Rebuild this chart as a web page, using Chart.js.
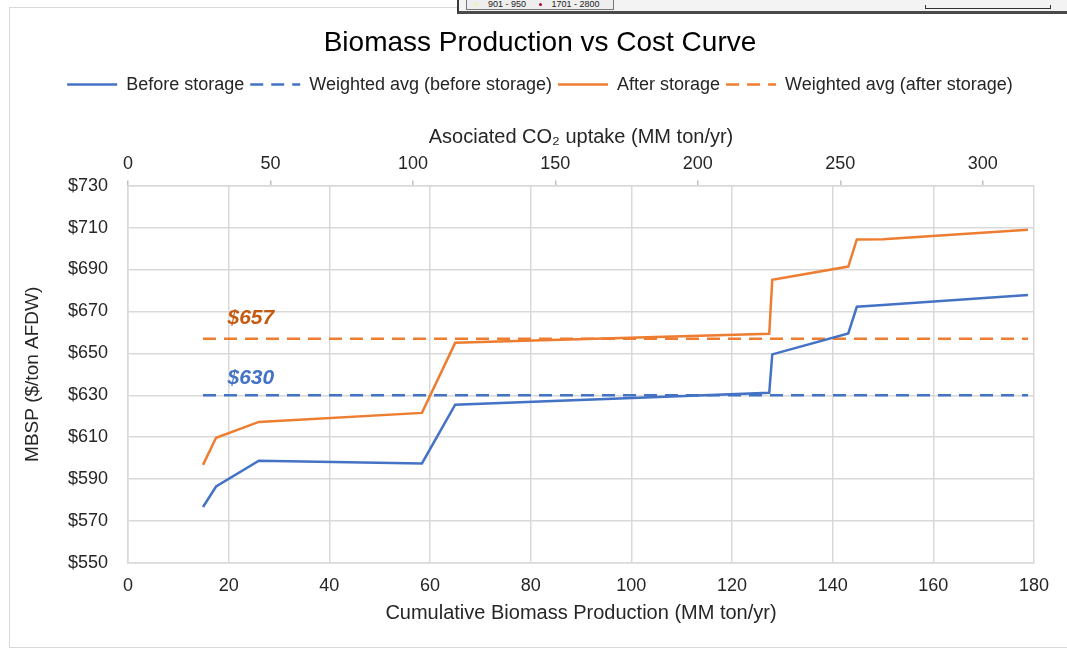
<!DOCTYPE html>
<html>
<head>
<meta charset="utf-8">
<script src="https://cdn.jsdelivr.net/npm/chart.js@4.4.1/dist/chart.umd.min.js"></script>
<style>
  html, body { margin: 0; padding: 0; background: #fff; }
  body { width: 1067px; height: 651px; position: relative; overflow: hidden; font-family: "Liberation Sans", Arial, sans-serif; }
  #frame { position: absolute; left: 9px; top: 7px; width: 1080px; height: 641px; border: 1.5px solid #d9d9d9; box-sizing: border-box; }
  #strip { position: absolute; left: 457px; top: -2px; width: 620px; height: 16px; background: #f3f3f3; border-left: 2px solid #3a3a3a; border-bottom: 3px solid #4a4a4a; box-sizing: border-box; }
  #legbox { position: absolute; left: 7px; top: 0; width: 148px; height: 12px; border: 1px solid #777; background: #eeeeee; font-size: 9px; line-height: 11px; color: #222; box-sizing: border-box; padding-left: 8px; white-space: nowrap; }
  #legbox .dot { display: inline-block; width: 3px; height: 3px; border-radius: 2px; margin: 0 10px 1px 0; }
  #scalebar { position: absolute; left: 466px; top: 7px; width: 124px; height: 3px; border-bottom: 1px solid #333; border-left: 1px solid #333; border-right: 1px solid #333; }
  #wrap { position: absolute; left: 0; top: 0; width: 1067px; height: 651px; }
</style>
</head>
<body>
<div id="frame"></div>
<div id="strip">
  <div id="legbox"><span class="dot" style="background:#f4f49a"></span>901 - 950 &nbsp;&nbsp;&nbsp;&nbsp;<span class="dot" style="background:#9b0f3a"></span>1701 - 2800</div>
  <div id="scalebar"></div>
</div>
<div id="wrap"><canvas id="costChart" width="1067" height="651"></canvas></div>
<script>
// Cumulative biomass production (MM ton/yr) at each break point
const biomass = [14.9, 17.5, 26.0, 58.4, 65.0, 127.4, 128.0, 143.1, 144.8, 150.0, 178.8];
// MBSP ($/ton AFDW)
const beforeStorage = [576.7, 586.5, 598.8, 597.5, 625.5, 631.2, 649.5, 659.5, 672.2, 673.1, 677.8];
const afterStorage = [596.8, 609.7, 617.3, 621.6, 655.0, 659.3, 685.1, 691.4, 704.3, 704.4, 708.9];

const weightedBefore = 630;
const weightedAfter = 657;

const yTicks = [550, 570, 590, 610, 630, 650, 670, 690, 710, 730];

const blue = '#4472C4';
const orange = '#ED7D31';
const fontFamily = '"Liberation Sans", Arial, sans-serif';

Chart.defaults.font.family = fontFamily;
Chart.defaults.color = '#262626';

const toPoints = (xs, ys) => xs.map((x, i) => ({ x: x, y: ys[i] }));
const flatLine = (v) => [{ x: biomass[0], y: v }, { x: biomass[biomass.length - 1], y: v }];

// Writes the "$630" / "$657" labels above the dashed average lines
const avgLabels = {
    id: 'avgLabels',
    afterDatasetsDraw(chart) {
        const { ctx, scales: { x, y } } = chart;
        ctx.save();
        ctx.font = 'italic bold 21px ' + fontFamily;
        ctx.textAlign = 'center';
        ctx.textBaseline = 'middle';
        ctx.fillStyle = '#C55A11';
        ctx.fillText('$' + weightedAfter, x.getPixelForValue(24.4), y.getPixelForValue(weightedAfter) - 20);
        ctx.fillStyle = blue;
        ctx.fillText('$' + weightedBefore, x.getPixelForValue(24.4), y.getPixelForValue(weightedBefore) - 17);
        ctx.restore();
    }
};

const ctx = document.getElementById('costChart').getContext('2d');
new Chart(ctx, {
    type: 'line',
    data: {
        datasets: [
            { label: 'Before storage', data: toPoints(biomass, beforeStorage), borderColor: blue, backgroundColor: blue, borderWidth: 2.5, pointRadius: 0 },
            { label: 'Weighted avg (before storage)', data: flatLine(weightedBefore), borderColor: blue, backgroundColor: blue, borderWidth: 2.5, borderDash: [13, 8], pointRadius: 0 },
            { label: 'After storage', data: toPoints(biomass, afterStorage), borderColor: orange, backgroundColor: orange, borderWidth: 2.5, pointRadius: 0 },
            { label: 'Weighted avg (after storage)', data: flatLine(weightedAfter), borderColor: orange, backgroundColor: orange, borderWidth: 2.5, borderDash: [13, 8], pointRadius: 0 }
        ]
    },
    options: {
        responsive: false,
        animation: false,
        layout: { padding: { left: 46, right: 33, top: 14, bottom: 22 } },
        plugins: {
            title: {
                display: true,
                text: 'Biomass Production vs Cost Curve',
                color: '#000',
                font: { size: 28, weight: 'normal' },
                padding: { top: 12, bottom: 10 }
            },
            legend: {
                labels: {
                    usePointStyle: true,
                    pointStyle: 'line',
                    pointStyleWidth: 50,
                    padding: 6,
                    color: '#262626',
                    font: { size: 18 },
                    // legend lines should keep the dataset's dash and width
                    generateLabels: (chart) => {
                        const items = Chart.defaults.plugins.legend.labels.generateLabels(chart);
                        items.forEach(item => {
                            const ds = chart.data.datasets[item.datasetIndex];
                            item.lineDash = ds.borderDash || [];
                            item.lineWidth = ds.borderWidth;
                            item.strokeStyle = ds.borderColor;
                        });
                        return items;
                    }
                }
            },
            tooltip: { enabled: false }
        },
        scales: {
            x: {
                type: 'linear',
                position: 'bottom',
                min: 0,
                max: 180,
                ticks: { stepSize: 20, padding: 12, font: { size: 18 } },
                grid: { color: '#d9d9d9', lineWidth: 1.5, drawTicks: false },
                border: { color: '#d9d9d9', width: 1.5 },
                title: { display: true, text: 'Cumulative Biomass Production (MM ton/yr)', font: { size: 20 }, padding: { top: 4 } },
                afterFit: (scale) => { scale.height = 66; }
            },
            x2: {
                type: 'linear',
                position: 'top',
                min: 0,
                max: 318,
                ticks: { stepSize: 50, includeBounds: false, padding: 6, font: { size: 18 } },
                grid: { drawOnChartArea: false, tickLength: 5, color: '#bfbfbf', lineWidth: 1.5 },
                border: { color: '#d9d9d9', width: 1.5 },
                title: { display: true, text: 'Asociated CO\u2082 uptake (MM ton/yr)', font: { size: 20 }, padding: { top: 22, bottom: 4 } },
                afterFit: (scale) => { scale.height = 82; }
            },
            y: {
                min: yTicks[0],
                max: yTicks[yTicks.length - 1],
                afterBuildTicks: (scale) => { scale.ticks = yTicks.map(v => ({ value: v })); },
                ticks: { padding: 20, font: { size: 18 }, callback: (v) => '$' + v },
                grid: { color: '#d9d9d9', lineWidth: 1.5, drawTicks: false },
                border: { color: '#d9d9d9', width: 1.5 },
                title: { display: true, text: 'MBSP ($/ton AFDW)', font: { size: 19 }, padding: { top: -25, bottom: 0 } },
                afterFit: (scale) => { scale.width = 82; }
            }
        }
    },
    plugins: [avgLabels]
});
</script>
</body>
</html>
